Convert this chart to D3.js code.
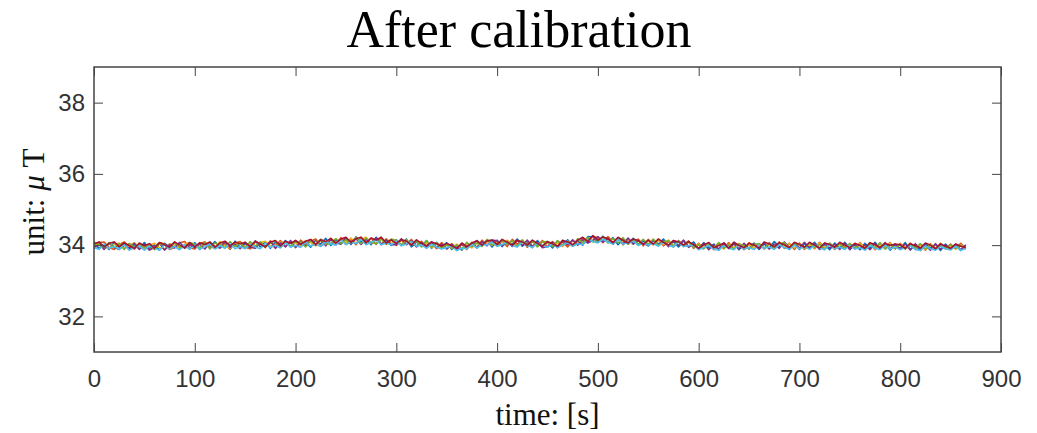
<!DOCTYPE html>
<html>
<head>
<meta charset="utf-8">
<script src="https://cdn.jsdelivr.net/npm/d3@7"></script>
<style>
    body { margin: 0; background: #fff; }
    .tick-label { font-family: "Liberation Sans", Arial, sans-serif; font-size: 24px; fill: #333; }
    .serif { font-family: "Liberation Serif", "Times New Roman", serif; fill: #111; }
</style>
</head>
<body>
<div id="chart"></div>
<script>

// sample times [s], one sample every 5 s from 0 to 865
let times = d3.range(0, 866, 5);

let xTicks = [0, 100, 200, 300, 400, 500, 600, 700, 800, 900];
let yTicks = [32, 34, 36, 38];

// MATLAB default line colours, one per sensor
let seriesColors = ["#0072BD", "#D95319", "#EDB120", "#7E2F8E", "#77AC30", "#4DBEEE", "#A2142F"];

// calibrated magnitude per sensor [uT] (10 samples per row)
let sensor1 = [
    34.05,33.91,34.01,33.88,34.08,33.94,34.06,33.87,34.01,33.90,
    34.07,33.90,34.01,33.86,34.05,33.96,34.08,33.90,34.01,33.89,
    34.07,33.88,34.05,33.95,34.10,33.92,34.04,33.89,34.11,33.94,
    34.04,33.90,34.12,33.95,34.09,33.91,34.08,33.98,34.13,33.95,
    34.13,33.98,34.09,33.94,34.14,34.03,34.19,33.99,34.16,34.03,
    34.19,34.02,34.23,34.08,34.18,34.01,34.22,34.05,34.14,33.99,
    34.15,34.00,34.17,33.95,34.09,33.97,34.13,33.91,34.08,33.95,
    34.07,33.88,33.99,33.86,34.04,33.94,34.13,34.00,34.14,33.95,
    34.14,33.96,34.12,34.02,34.17,33.97,34.08,33.93,34.13,33.97,
    34.08,33.92,34.11,33.98,34.15,33.97,34.12,34.00,34.24,34.23,
    34.08,34.25,34.08,34.21,34.01,34.17,34.06,34.19,34.01,34.12,
    33.98,34.13,34.03,34.17,33.98,34.09,33.95,34.12,33.96,34.09,
    33.89,34.07,33.93,34.03,33.86,34.05,33.91,34.08,33.87,34.01,
    33.91,34.06,33.88,34.03,33.91,34.10,33.95,34.05,33.88,34.06,
    33.88,34.04,33.94,34.08,33.90,34.02,33.87,34.06,33.92,34.08,
    33.89,34.01,33.87,34.05,33.91,34.08,33.89,34.03,33.86,34.01,
    33.91,34.07,33.88,34.00,33.85,34.04,33.92,34.02,33.85,34.03,
    33.87,34.01,33.85,33.99
];
let sensor2 = [
    33.95,34.07,34.09,33.93,33.88,34.02,34.09,33.95,33.89,34.02,
    34.00,33.88,33.95,34.07,34.03,33.88,33.94,34.06,34.10,33.93,
    33.89,34.05,34.09,33.95,33.92,34.08,34.02,33.89,34.06,34.10,
    33.94,33.90,34.09,34.05,33.93,34.12,33.98,34.13,33.97,34.07,
    33.95,34.14,34.01,34.11,34.17,33.97,34.06,34.17,34.04,34.21,
    34.05,34.16,34.01,34.22,34.08,34.20,34.02,34.22,34.02,34.15,
    33.99,34.14,34.03,34.16,33.97,34.11,33.96,34.05,33.90,34.07,
    33.91,34.04,33.91,34.02,33.88,34.08,33.94,34.14,34.00,34.12,
    33.98,34.12,33.96,34.16,34.02,34.13,33.94,34.10,33.99,34.13,
    33.94,34.10,33.97,34.08,33.95,34.13,34.02,34.21,34.10,34.25,
    34.20,34.07,34.24,34.07,34.20,34.01,34.16,34.05,34.17,33.98,
    34.16,34.01,34.17,33.98,34.10,33.95,34.13,34.00,34.12,33.91,
    34.05,33.91,34.07,33.87,34.03,33.93,34.07,33.89,34.01,33.87,
    34.07,33.90,34.04,33.89,34.07,33.93,34.09,33.91,34.05,33.88,
    34.06,33.88,34.04,33.90,34.08,33.92,34.02,33.88,34.06,33.94,
    34.03,33.89,34.07,33.91,34.05,33.87,34.03,33.93,34.07,33.89,
    34.05,33.91,34.06,33.88,34.02,33.86,34.04,33.90,34.05,33.91,
    34.03,33.89,34.05,33.91
];
let sensor3 = [
    34.01,34.05,33.95,33.91,34.02,34.06,33.92,33.99,34.07,33.92,
    33.90,34.00,34.05,33.93,33.89,34.04,34.00,33.92,34.03,34.07,
    33.95,33.91,34.05,34.03,33.94,34.10,33.98,33.92,34.04,34.06,
    33.94,34.04,33.93,34.07,34.11,33.98,33.94,34.08,34.05,33.97,
    34.07,33.98,34.13,34.07,33.98,34.13,34.04,34.19,34.04,34.15,
    34.07,34.20,34.06,34.16,34.22,34.04,34.16,34.05,34.18,34.05,
    34.13,34.02,34.13,34.02,34.13,33.97,34.06,33.93,34.06,33.95,
    34.03,33.92,34.03,33.90,34.02,33.92,34.08,34.00,34.10,34.00,
    34.10,34.00,34.14,33.98,34.12,34.01,34.12,33.98,34.07,33.95,
    34.08,33.98,34.07,33.96,34.11,33.99,34.16,34.05,34.20,34.13,
    34.22,34.11,34.18,34.07,34.18,34.07,34.18,34.03,34.13,34.02,
    34.12,34.01,34.13,34.02,34.14,33.99,34.09,33.96,34.08,33.95,
    34.03,33.93,34.05,33.91,34.01,33.89,34.03,33.93,34.05,33.91,
    34.01,33.92,34.04,33.91,34.03,33.93,34.07,33.95,34.05,33.92,
    34.04,33.90,34.02,33.92,34.06,33.94,34.04,33.90,34.02,33.92,
    34.01,33.91,34.05,33.93,34.03,33.89,34.01,33.91,34.05,33.93,
    34.03,33.93,34.04,33.90,34.00,33.88,34.02,33.92,34.01,33.89,
    33.99,33.89,34.01,33.91
];
let sensor4 = [
    33.91,34.03,33.88,34.05,33.94,33.88,34.00,33.91,34.05,33.88,
    34.02,33.86,33.93,34.05,33.86,34.02,33.92,34.08,33.91,34.01,
    33.93,34.03,33.89,34.07,33.96,33.92,34.10,33.94,34.02,33.90,
    34.08,33.94,33.91,34.07,33.97,34.10,33.91,34.06,33.95,34.13,
    33.93,34.08,33.97,34.15,34.00,34.15,33.98,34.15,34.06,34.03,
    34.21,34.04,34.18,34.02,34.16,34.06,34.20,34.01,34.16,34.01,
    34.01,34.18,34.01,34.12,33.95,34.07,33.94,34.09,33.94,34.03,
    33.89,34.02,33.85,34.04,33.92,34.04,33.92,34.10,33.98,34.14,
    34.12,33.98,34.10,33.96,34.14,33.99,34.14,33.96,34.09,33.93,
    33.96,34.08,33.93,34.12,34.01,34.15,34.00,34.15,34.06,34.13,
    34.24,34.09,34.18,34.03,34.16,34.03,34.20,34.03,34.13,34.04,
    34.00,34.15,34.01,34.12,33.96,34.13,33.99,34.14,33.94,34.03,
    33.91,34.05,33.87,34.01,33.89,34.07,33.91,34.03,33.89,34.05,
    33.89,34.04,33.90,34.07,33.89,34.03,33.91,34.09,33.93,34.04,
    33.92,34.08,33.90,34.04,33.88,34.06,33.92,34.02,33.88,34.06,
    33.87,34.03,33.89,34.01,33.87,34.05,33.91,34.07,33.89,34.03,
    33.89,34.03,33.86,34.04,33.90,34.00,33.86,34.04,33.89,34.01,
    33.89,34.03,33.87,34.01
];
let sensor5 = [
    34.09,34.01,33.93,34.07,33.94,34.04,33.88,34.05,33.95,34.02,
    33.92,34.04,33.87,34.03,34.01,33.90,34.08,33.94,33.93,34.07,
    34.03,33.93,34.07,33.89,34.06,34.02,33.92,34.10,33.96,34.06,
    33.92,34.10,33.97,34.09,33.95,34.06,34.12,33.94,34.07,33.97,
    34.09,34.08,33.95,34.13,34.02,34.17,34.02,34.05,34.18,34.05,
    34.15,34.06,34.22,34.04,34.20,34.08,34.04,34.17,34.04,34.17,
    34.13,34.00,34.15,34.00,34.11,33.95,34.12,33.95,34.04,33.91,
    34.01,33.90,34.01,33.88,34.08,33.96,34.06,33.96,34.16,34.02,
    34.00,34.14,34.02,34.12,33.96,34.15,33.98,34.12,33.95,34.09,
    34.10,33.96,34.13,34.00,34.09,33.97,34.18,34.07,34.22,34.09,
    34.12,34.23,34.06,34.19,34.06,34.21,34.02,34.15,34.03,34.16,
    34.02,34.17,33.99,34.10,34.12,33.97,34.11,33.98,34.10,33.93,
    34.01,33.89,34.03,33.93,34.07,33.91,34.01,33.89,34.03,33.99,
    33.89,34.02,34.04,33.91,34.05,33.89,34.03,34.07,33.91,34.02,
    34.02,33.92,34.06,33.94,34.02,33.88,34.06,33.94,34.04,33.90,
    34.05,33.93,34.01,33.87,34.03,33.93,34.07,33.89,34.01,33.91,
    34.01,33.89,34.02,33.92,34.04,33.90,34.00,33.88,34.01,33.91,
    34.01,33.91,33.99,33.89
];
let sensor6 = [
    33.93,33.88,34.03,33.91,33.96,33.88,34.02,33.86,33.93,33.98,
    33.86,33.98,33.91,33.86,34.01,33.90,33.96,33.87,34.01,33.89,
    34.01,33.89,33.95,34.03,33.89,33.98,33.92,34.04,33.90,33.96,
    33.90,34.02,33.95,33.90,34.05,33.94,34.00,33.92,34.07,33.95,
    33.99,33.94,34.09,33.97,34.04,33.96,34.10,34.03,34.00,34.15,
    34.01,34.10,34.04,34.16,34.01,34.08,34.14,34.01,34.06,34.01,
    34.11,33.98,34.03,34.10,33.97,34.01,33.91,34.03,33.94,33.89,
    33.93,33.98,33.85,33.92,33.90,34.02,33.92,34.02,34.00,34.10,
    33.96,34.02,34.08,33.98,33.95,34.09,33.98,33.94,34.05,33.99,
    33.94,34.04,33.93,34.00,34.07,33.97,34.04,34.01,34.16,34.11,
    34.06,34.17,34.08,34.03,34.16,34.03,34.06,34.11,33.99,34.06,
    34.00,34.05,33.97,34.08,34.00,33.95,34.09,33.96,33.98,34.01,
    33.87,33.93,33.99,33.89,33.86,33.99,33.91,33.87,34.01,33.89,
    33.93,33.88,34.00,33.91,33.95,33.88,34.01,33.93,33.89,34.00,
    33.90,33.96,33.88,34.00,33.92,33.87,34.02,33.90,33.94,33.88,
    33.99,33.89,33.93,33.86,33.99,33.91,33.87,34.01,33.89,33.95,
    33.87,33.93,33.98,33.88,33.85,33.98,33.90,33.86,33.97,33.89,
    33.87,33.97,33.85,33.91
];
let sensor7 = [
    34.03,34.09,33.95,34.05,34.09,33.96,34.06,33.99,33.91,34.06,
    33.98,34.04,33.91,34.07,34.01,33.94,34.09,34.00,33.93,34.07,
    33.95,34.07,34.01,34.09,33.94,34.06,34.11,33.98,34.08,34.04,
    34.08,33.96,34.11,34.03,33.95,34.08,34.13,33.98,34.11,34.05,
    34.13,34.02,34.11,34.16,34.02,34.15,34.10,34.19,34.06,34.17,
    34.22,34.08,34.18,34.22,34.06,34.20,34.14,34.22,34.06,34.15,
    34.05,34.16,34.11,34.00,34.15,34.05,33.98,34.09,34.04,33.97,
    34.05,33.98,33.91,34.06,33.96,34.06,34.12,34.00,34.12,34.14,
    34.02,34.16,34.08,34.00,34.14,34.09,34.00,34.14,34.05,33.97,
    34.10,34.04,33.97,34.14,34.09,34.01,34.14,34.22,34.10,34.27,
    34.14,34.23,34.18,34.07,34.22,34.13,34.06,34.17,34.13,34.02,
    34.14,34.03,34.17,34.08,34.00,34.13,34.09,34.00,34.10,34.01,
    33.91,34.01,34.07,33.93,33.99,34.05,33.91,34.08,33.99,33.93,
    34.05,34.00,33.92,34.09,34.03,33.95,34.07,34.01,33.93,34.08,
    34.02,33.94,34.08,34.00,33.92,34.06,34.02,33.94,34.08,34.00,
    33.93,34.05,33.99,33.91,34.07,34.01,33.93,34.05,33.99,34.03,
    34.01,33.91,34.04,33.98,33.92,34.06,34.00,33.90,34.03,33.97,
    33.91,34.03,33.97,33.93
];

let sensors = [sensor1, sensor2, sensor3, sensor4, sensor5, sensor6, sensor7];

// drawing area
let width = 1037, height = 433;
let margin = {top: 67, right: 36, bottom: 81, left: 94};
let plotW = width - margin.left - margin.right;
let plotH = height - margin.top - margin.bottom;

let svg = d3.select("#chart").append("svg")
    .attr("width", width)
    .attr("height", height)
    .style("background", "#fff");

let x = d3.scaleLinear().domain([0, 900]).range([margin.left, margin.left + plotW]);
let y = d3.scaleLinear().domain([31, 39]).range([margin.top + plotH, margin.top]);

// data lines
let line = d3.line()
    .x((d, i) => x(times[i]))
    .y(d => y(d));

svg.append("g")
    .selectAll("path")
    .data(sensors)
    .enter()
    .append("path")
    .attr("d", line)
    .attr("fill", "none")
    .attr("stroke", (d, i) => seriesColors[i])
    .attr("stroke-width", 1.6)
    .attr("stroke-linejoin", "round");

// axes, MATLAB style: ticks inside on all four sides
let tickLen = 9;
let axisColor = "#444";

svg.append("g")
    .attr("transform", "translate(0," + (margin.top + plotH) + ")")
    .call(d3.axisBottom(x).tickValues(xTicks).tickSize(-tickLen).tickPadding(18))
    .call(g => g.select(".domain").remove())
    .call(g => g.selectAll("line").attr("stroke", axisColor))
    .call(g => g.selectAll("text").attr("class", "tick-label").attr("fill", null).attr("font-size", null).attr("font-family", null));

svg.append("g")
    .attr("transform", "translate(0," + margin.top + ")")
    .call(d3.axisTop(x).tickValues(xTicks).tickSize(-tickLen).tickFormat(""))
    .call(g => g.select(".domain").remove())
    .call(g => g.selectAll("line").attr("stroke", axisColor));

svg.append("g")
    .attr("transform", "translate(" + margin.left + ",0)")
    .call(d3.axisLeft(y).tickValues(yTicks).tickSize(-tickLen).tickPadding(9))
    .call(g => g.select(".domain").remove())
    .call(g => g.selectAll("line").attr("stroke", axisColor))
    .call(g => g.selectAll("text").attr("class", "tick-label").attr("fill", null).attr("font-size", null).attr("font-family", null));

svg.append("g")
    .attr("transform", "translate(" + (margin.left + plotW) + ",0)")
    .call(d3.axisRight(y).tickValues(yTicks).tickSize(-tickLen).tickFormat(""))
    .call(g => g.select(".domain").remove())
    .call(g => g.selectAll("line").attr("stroke", axisColor));

// box
svg.append("rect")
    .attr("x", margin.left)
    .attr("y", margin.top)
    .attr("width", plotW)
    .attr("height", plotH)
    .attr("fill", "none")
    .attr("stroke", axisColor)
    .attr("stroke-width", 1.5);

// title and labels
svg.append("text")
    .attr("class", "serif")
    .attr("x", 519)
    .attr("y", 47)
    .attr("text-anchor", "middle")
    .style("font-size", "52px")
    .style("fill", "#000")
    .text("After calibration");

svg.append("text")
    .attr("class", "serif")
    .attr("x", margin.left + plotW / 2)
    .attr("y", 425)
    .attr("text-anchor", "middle")
    .style("font-size", "31px")
    .text("time: [s]");

let ylab = svg.append("text")
    .attr("class", "serif")
    .attr("transform", "translate(44,202) rotate(-90)")
    .attr("text-anchor", "middle")
    .style("font-size", "31px");
ylab.append("tspan").text("unit: ");
ylab.append("tspan").style("font-style", "italic").text("\u03BC");
ylab.append("tspan").text(" T");

</script>
</body>
</html>
